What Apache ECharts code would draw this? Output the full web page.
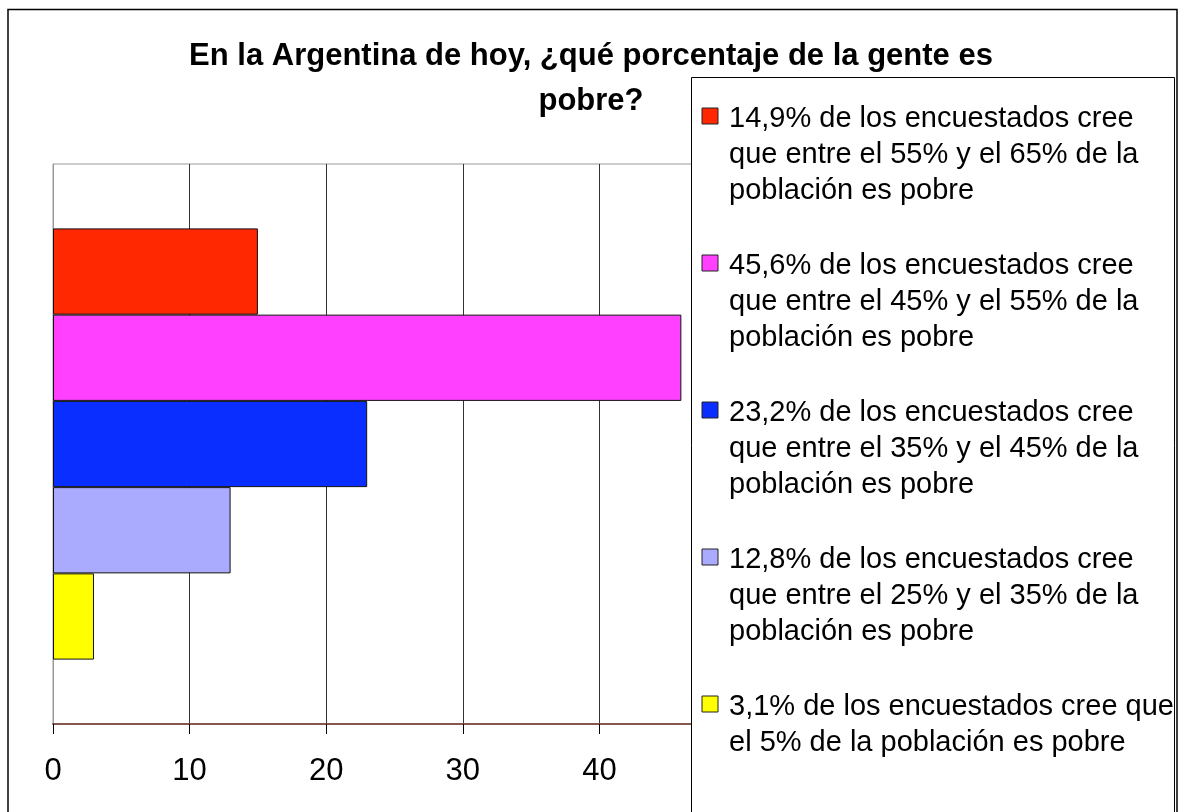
<!DOCTYPE html>
<html lang="es">
<head>
    <meta charset="UTF-8">
    <title>En la Argentina de hoy, ¿qué porcentaje de la gente es pobre?</title>
    <script src="https://cdn.jsdelivr.net/npm/echarts/dist/echarts.min.js"></script>
    <style>
        html, body { margin: 0; padding: 0; background: #fff; }
    </style>
</head>
<body>
    <div id="main" style="width: 1182px;height:812px;"></div>
    <script>
        // datos
        var titleText = 'En la Argentina de hoy, ¿qué porcentaje de la gente es\npobre?';
        var categories = [''];
        var seriesNames = [
            '14,9% de los encuestados cree\nque entre el 55% y el 65% de la\npoblación es pobre',
            '45,6% de los encuestados cree\nque entre el 45% y el 55% de la\npoblación es pobre',
            '23,2% de los encuestados cree\nque entre el 35% y el 45% de la\npoblación es pobre',
            '12,8% de los encuestados cree\nque entre el 25% y el 35% de la\npoblación es pobre',
            '3,1% de los encuestados cree que\nel 5% de la población es pobre'
        ];
        var values = [15, 46, 23, 13, 3];
        var colors = ['#FF2800', '#FF40FF', '#0A2EFF', '#AAAAFF', '#FFFF00'];
        var xMin = 0, xMax = 50, xStep = 10;

        var font = "'Liberation Sans', Arial, sans-serif";

        var chart = echarts.init(document.getElementById('main'));

        var series = seriesNames.map(function (name, i) {
            return {
                name: name,
                type: 'bar',
                data: [values[i]],
                barGap: 0,
                barCategoryGap: '23%',
                itemStyle: {
                    color: colors[i],
                    borderColor: '#111',
                    borderWidth: 1
                }
            };
        });

        // leyenda dibujada a mano (el icono va en la primera linea)
        var legendItems = [];
        seriesNames.forEach(function (name, i) {
            var cy = 116 + i * 147;
            legendItems.push({
                type: 'rect',
                z: 60,
                shape: { x: 702, y: cy - 8, width: 16, height: 16 },
                style: { fill: colors[i], stroke: '#222', lineWidth: 1 }
            });
            legendItems.push({
                type: 'text',
                z: 60,
                x: 729,
                y: cy + 3 - 18,
                style: {
                    text: name,
                    fill: '#000',
                    font: '29px ' + font,
                    lineHeight: 36,
                    verticalAlign: 'top'
                }
            });
        });

        var option = {
            animation: false,
            title: {
                text: titleText,
                left: 'center',
                top: 34,
                padding: 0,
                textStyle: {
                    fontFamily: font,
                    fontSize: 31,
                    fontWeight: 'bold',
                    color: '#000',
                    lineHeight: 45
                }
            },
            grid: {
                left: 53,
                top: 164,
                right: 446,
                bottom: 88,
                show: true,
                borderColor: '#999',
                borderWidth: 1
            },
            xAxis: {
                type: 'value',
                min: xMin,
                max: xMax,
                interval: xStep,
                axisLine: { show: true, lineStyle: { color: '#86574F', width: 2 } },
                axisTick: { show: true, length: 10, lineStyle: { color: '#000' } },
                axisLabel: {
                    margin: 32,
                    fontFamily: font,
                    fontSize: 31,
                    color: '#000'
                },
                splitLine: { show: true, lineStyle: { color: '#333', width: 1 } }
            },
            yAxis: {
                type: 'category',
                data: categories,
                inverse: true,
                axisLine: { show: true, lineStyle: { color: '#999' } },
                axisTick: { show: false },
                axisLabel: { show: false }
            },
            series: series,
            graphic: [
                {
                    type: 'rect',
                    z: 50,
                    shape: { x: 691.5, y: 77.5, width: 483, height: 800 },
                    style: { fill: '#fff', stroke: '#000', lineWidth: 1 }
                }
            ].concat(legendItems).concat([
                {
                    type: 'rect',
                    z: 200,
                    shape: { x: 8, y: 9.5, width: 1169, height: 830 },
                    style: { fill: 'none', stroke: '#000', lineWidth: 1.5 }
                }
            ])
        };

        chart.setOption(option);
    </script>
</body>
</html>
